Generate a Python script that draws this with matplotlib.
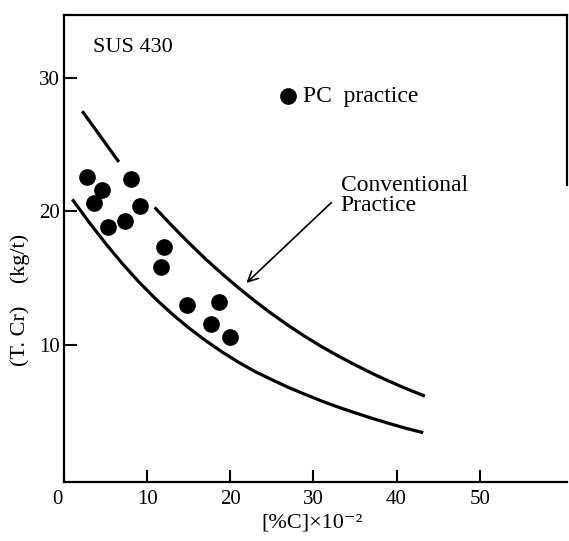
import matplotlib.pyplot as plt

plt.rcParams['font.family'] = ['Liberation Serif', 'DejaVu Serif']

# PC practice (measured points)
pc_c = [2.8, 4.6, 3.6, 8.0, 9.2, 5.3, 7.3, 12.0, 11.7, 14.8, 18.6, 17.7, 20.0]
pc_cr = [22.6, 21.6, 20.6, 22.4, 20.4, 18.8, 19.3, 17.3, 15.8, 13.0, 13.2, 11.6, 10.6]

# conventional practice band - upper bound (two pieces, gap around the points)
upper_a_c = [2.2, 6.6]
upper_a_cr = [27.5, 23.7]
upper_b_c = [10.9, 13, 15, 17, 19, 21, 23, 25, 27, 29, 31, 33, 35, 37, 39, 41, 43.4]
upper_b_cr = [20.3, 18.91, 17.65, 16.45, 15.33, 14.27, 13.27, 12.33, 11.45,
              10.63, 9.87, 9.17, 8.51, 7.89, 7.31, 6.77, 6.17]

# lower bound
lower_c = [1, 3, 5, 7, 9, 11, 13, 15, 17, 19, 21, 23, 25, 27, 29, 31, 33, 35,
           37, 39, 41, 43.2]
lower_cr = [20.9, 19.2, 17.6, 16.1, 14.72, 13.46, 12.32, 11.28, 10.34, 9.48,
            8.7, 8.0, 7.4, 6.82, 6.3, 5.8, 5.34, 4.92, 4.52, 4.14, 3.78, 3.43]

legend_pt = (26.9, 28.6)

fig = plt.figure(figsize=(5.69, 5.41), dpi=100)
ax = fig.add_axes([64 / 569, 1 - 482 / 541, 503 / 569, 467 / 541])

lw = 2.3
ax.plot(upper_a_c, upper_a_cr, color='black', lw=lw, solid_capstyle='butt')
ax.plot(upper_b_c, upper_b_cr, color='black', lw=lw, solid_capstyle='butt',
        solid_joinstyle='round')
ax.plot(lower_c, lower_cr, color='black', lw=lw, solid_capstyle='butt',
        solid_joinstyle='round')

ax.plot(pc_c, pc_cr, 'o', color='black', ms=11, clip_on=False)
ax.plot([legend_pt[0]], [legend_pt[1]], 'o', color='black', ms=11)
ax.text(28.7, legend_pt[1], 'PC  practice', fontsize=17, va='center', ha='left')

ax.text(3.5, 32.3, 'SUS 430', fontsize=16, va='center', ha='left')

ax.text(33.3, 21.2, 'Conventional\nPractice', fontsize=17, va='center', ha='left',
        linespacing=0.9)
ax.annotate('', xy=(21.7, 14.5), xytext=(32.4, 20.8),
            arrowprops=dict(arrowstyle='->', color='black', lw=1.2,
                            mutation_scale=18))

ax.set_xlim(0, 60.5)
ax.set_ylim(-0.26, 34.7)
ax.set_xticks([0, 10, 20, 30, 40, 50], ['', '10', '20', '30', '40', '50'])
ax.set_yticks([10, 20, 30])
ax.tick_params(axis='both', direction='in', length=9, width=1.5, labelsize=15)
ax.tick_params(axis='x', pad=6)
ax.tick_params(axis='y', pad=3)
# the origin label sits a little left of the corner
ax.annotate('0', xy=(0, 0), xycoords=('data', 'axes fraction'),
            xytext=(-5, -12.5), textcoords='offset points',
            ha='center', va='center', fontsize=15)

for s in ax.spines.values():
    s.set_linewidth(1.6)
ax.spines['right'].set_bounds(22.0, 34.7)

fig.text(312 / 569, 1 - 523 / 541, '[%C]×10⁻²', fontsize=16,
         ha='center', va='center')
fig.text(20 / 569, 1 - 300 / 541, '(T. Cr)    (kg/t)', fontsize=16,
         ha='center', va='center', rotation=90)

fig.savefig('out.png', dpi=100)
